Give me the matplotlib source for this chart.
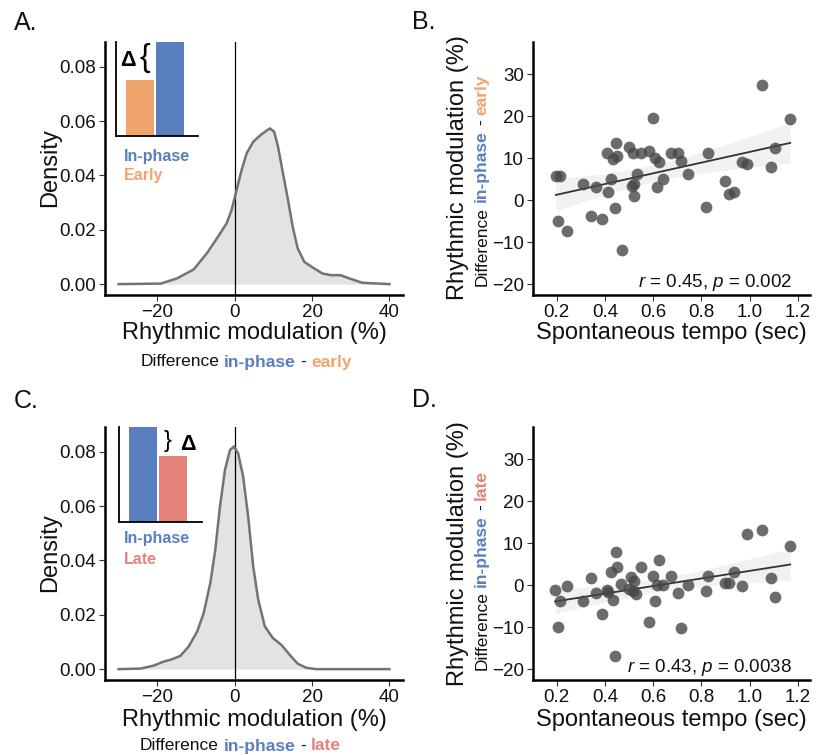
import numpy as np
import matplotlib
matplotlib.use("Agg")
import matplotlib.pyplot as plt
from matplotlib.transforms import IdentityTransform

plt.rcParams["font.family"] = ["Liberation Sans", "DejaVu Sans"]
plt.rcParams["mathtext.fontset"] = "custom"
plt.rcParams["mathtext.it"] = "Liberation Sans:italic"
plt.rcParams["mathtext.rm"] = "Liberation Sans"

W, H = 818, 755

# density curves
dens_x_early = [-30, -19.1, -14.9, -10.6, -7.2, -4.6, -2.1, -0.8, 0.5, 1.8, 3.1, 4.8, 6.9, 9.1,
                10.2, 11.2, 12.5, 13.8, 15.0, 16.3, 18.0, 20.2, 22.7, 24.9, 27.4, 29.6, 33.0, 40]
dens_y_early = [0, 0.0002, 0.0021, 0.0054, 0.0113, 0.0168, 0.0223, 0.0272, 0.0346, 0.0420,
                0.0481, 0.0524, 0.0551, 0.0573, 0.0561, 0.0506, 0.0407, 0.0309, 0.0211,
                0.0131, 0.0082, 0.0061, 0.0039, 0.0033, 0.0033, 0.0021, 0.0005, 0]

dens_x_late = [-30, -24.3, -20.9, -18.3, -16.2, -14.0, -11.9, -9.7, -8.0, -6.3, -5.0, -3.8,
               -2.5, -1.2, -0.2, 0.9, 2.2, 3.5, 4.8, 6.1, 7.8, 9.9, 12.1, 14.2, 16.3, 18.5, 21.0, 40]
dens_y_late = [0, 0.0002, 0.0013, 0.0028, 0.0036, 0.0049, 0.0083, 0.0138, 0.0206, 0.0316,
               0.0439, 0.0598, 0.0733, 0.0806, 0.0819, 0.0794, 0.0708, 0.0561, 0.0377,
               0.0255, 0.0157, 0.0114, 0.0089, 0.0053, 0.0020, 0.0005, 0, 0]

# scatter data
tempo_early = [0.196, 0.214, 0.204, 0.244, 0.308, 0.341, 0.363, 0.386, 0.410, 0.446, 0.434,
               0.451, 0.426, 0.412, 0.441, 0.469, 0.499, 0.517, 0.548, 0.531, 0.510, 0.520,
               0.521, 0.581, 0.600, 0.607, 0.625, 0.617, 0.639, 0.672, 0.702, 0.716, 0.746,
               0.818, 0.825, 0.898, 0.913, 0.935, 0.970, 0.989, 1.051, 1.090, 1.103, 1.168]
mod_early = [5.7, 5.7, -5.0, -7.3, 3.9, -3.8, 3.2, -4.4, 11.1, 13.5, 9.8,
             10.5, 5.0, 2.0, -2.0, -11.9, 12.7, 11.3, 11.1, 6.2, 3.4, 3.8,
             1.0, 11.7, 19.6, 9.9, 9.0, 3.2, 5.0, 11.3, 11.3, 9.3, 6.2,
             -1.7, 11.1, 4.5, 1.5, 2.0, 9.0, 8.6, 27.3, 7.8, 12.3, 19.2]

tempo_late = [0.193, 0.214, 0.204, 0.244, 0.308, 0.341, 0.363, 0.386, 0.410, 0.412, 0.426,
              0.446, 0.448, 0.434, 0.441, 0.468, 0.499, 0.508, 0.520, 0.517, 0.527, 0.548,
              0.581, 0.599, 0.606, 0.623, 0.614, 0.639, 0.672, 0.701, 0.716, 0.746, 0.818,
              0.825, 0.899, 0.913, 0.935, 0.970, 0.988, 1.051, 1.090, 1.103, 1.168]
mod_late = [-1.1, -3.7, -10.1, -0.3, -3.7, 1.8, -1.9, -6.9, -1.1, -1.7, 3.0,
            7.8, 4.3, -3.5, -17.0, 0.3, -1.0, 1.9, 0.9, -1.5, -2.1, 4.2,
            -8.7, 2.1, -3.7, 6.0, 0.1, 0.1, 2.2, -1.9, -10.2, 0.1, -1.3,
            2.2, 0.5, 0.5, 3.2, -0.3, 12.2, 13.2, 1.7, -2.9, 9.4]

stats_early = "$\\it{r}$ = 0.45, $\\it{p}$ = 0.002"
stats_late = "$\\it{r}$ = 0.43, $\\it{p}$ = 0.0038"

inset_early = [0.59, 1.1]   # early, in-phase
inset_late = [1.1, 0.69]    # in-phase, late

BLUE = "#5a7fbf"
ORANGE = "#efa46e"
SALMON = "#e5827a"
INK = "#111111"

fig = plt.figure(figsize=(W / 100, H / 100), dpi=100)


def box(left, top, right, bottom):
    return [left / W, 1 - bottom / H, (right - left) / W, (bottom - top) / H]


def ptext(x, y, s, **kw):
    # x, y in pixels from top-left
    return fig.text(x, H - y, s, transform=IdentityTransform(), **kw)


def colored(x, y, parts, size, rotation=0):
    r = fig.canvas.get_renderer()
    gap = 0.278 * size * 100 / 72
    texts = []
    for s, c, w in parts:
        t = ptext(0, 0, s, color=c, fontweight=w, fontsize=size, rotation=rotation,
                  ha="left" if rotation == 0 else "center",
                  va="center" if rotation == 0 else "bottom")
        texts.append(t)
    ext = [t.get_window_extent(r) for t in texts]
    lens = [e.width if rotation == 0 else e.height for e in ext]
    total = sum(lens) + gap * (len(lens) - 1)
    pos = -total / 2
    for t, L in zip(texts, lens):
        if rotation == 0:
            t.set_position((x + pos, H - y))
        else:
            t.set_position((x, H - y + pos))
        pos += L + gap


def style(ax):
    for s in ["top", "right"]:
        ax.spines[s].set_visible(False)
    for s in ["left", "bottom"]:
        ax.spines[s].set_linewidth(1.8)
        ax.spines[s].set_color("black")
    ax.tick_params(length=4.3, width=0.8, color="#333333", labelsize=13.5,
                   labelcolor=INK, pad=2)
    ax.set_facecolor("none")


def density_panel(ax, dx, dy):
    ax.fill_between(dx, 0, dy, color="#e3e3e3", lw=0, zorder=1)
    ax.axvline(0, color="black", lw=0.9, zorder=2)
    ax.plot(dx, dy, color="#737373", lw=1.8, zorder=3, solid_joinstyle="round")
    ax.set_xlim(-33.5, 43.5)
    ax.set_ylim(-0.004, 0.0892)
    ax.set_xticks([-20, 0, 20, 40])
    ax.set_yticks([0, 0.02, 0.04, 0.06, 0.08])
    ax.set_yticklabels(["0.00", "0.02", "0.04", "0.06", "0.08"])
    style(ax)


def scatter_panel(ax, x, y, label):
    x = np.asarray(x)
    y = np.asarray(y)
    n = len(x)
    b, a = np.polyfit(x, y, 1)
    xs = np.linspace(x.min(), x.max(), 80)
    resid = y - (a + b * x)
    s = np.sqrt((resid ** 2).sum() / (n - 2))
    se = s * np.sqrt(1 / n + (xs - x.mean()) ** 2 / ((x - x.mean()) ** 2).sum())
    fit = a + b * xs
    ax.fill_between(xs, fit - 2.018 * se, fit + 2.018 * se, color="#999999", alpha=0.13, lw=0, zorder=1)
    ax.plot(xs, fit, color="#333333", lw=1.3, zorder=2)
    ax.scatter(x, y, s=72, color="#474747", alpha=0.8, lw=0, zorder=3)
    ax.set_xlim(0.1, 1.25)
    ax.set_ylim(-22.6, 37.7)
    ax.set_xticks([0.2, 0.4, 0.6, 0.8, 1.0, 1.2])
    ax.set_xticklabels(["0.2", "0.4", "0.6", "0.8", "1.0", "1.2"])
    ax.set_yticks([-20, -10, 0, 10, 20, 30])
    ax.text(1.175, -19.6, label, ha="right", va="center", fontsize=13.5, color=INK)
    style(ax)


def inset(rect, vals, colors, xlim):
    ax = fig.add_axes(rect)
    ax.bar([0, 1], vals, width=0.92, color=colors, lw=0)
    ax.set_xlim(*xlim)
    ax.set_ylim(0, 1)
    for s in ["top", "right"]:
        ax.spines[s].set_visible(False)
    for s in ["left", "bottom"]:
        ax.spines[s].set_linewidth(1.3)
    ax.set_xticks([])
    ax.set_yticks([])
    ax.set_facecolor("none")
    return ax


# panel A
axA = fig.add_axes(box(105, 41.7, 403, 295))
density_panel(axA, dens_x_early, dens_y_early)
inset(box(115.7, 41.7, 198.3, 136), inset_early, [ORANGE, BLUE], (-0.81, 1.94))
ptext(128.3, 61, "Δ", fontsize=15.5, fontweight="bold", ha="center", va="center")
ptext(144.5, 58, "{", fontsize=23, ha="center", va="center")
ptext(124, 156.7, "In-phase", color=BLUE, fontsize=11.5, fontweight="bold", va="center")
ptext(124, 175.7, "Early", color=ORANGE, fontsize=11.5, fontweight="bold", va="center")
ptext(254, 333, "Rhythmic modulation (%)", fontsize=17, ha="center", va="center", color=INK)
colored(246, 362, [("Difference", INK, "normal"), ("in-phase", BLUE, "bold"),
                   ("-", INK, "normal"), ("early", ORANGE, "bold")], 12.5)
ptext(50, 168, "Density", fontsize=17, rotation=90, ha="center", va="center", color=INK)

# panel B
axB = fig.add_axes(box(532.7, 41.7, 810, 295))
scatter_panel(axB, tempo_early, mod_early, stats_early)
ptext(671, 333, "Spontaneous tempo (sec)", fontsize=17, ha="center", va="center", color=INK)
ptext(458.3, 167.5, "Rhythmic modulation (%)", fontsize=17, rotation=90, ha="center", va="center", color=INK)
colored(481.7, 180, [("Difference", INK, "normal"), ("in-phase", BLUE, "bold"),
                     ("-", INK, "normal"), ("early", ORANGE, "bold")], 12.5, rotation=90)

# panel C
axC = fig.add_axes(box(105, 426.7, 403, 680))
density_panel(axC, dens_x_late, dens_y_late)
inset(box(119.3, 426.7, 201.7, 521.7), inset_late, [BLUE, SALMON], (-0.78, 1.94))
ptext(168, 441, "}", fontsize=17, ha="center", va="center")
ptext(187.5, 444.5, "Δ", fontsize=15.5, fontweight="bold", ha="center", va="center")
ptext(124, 539, "In-phase", color=BLUE, fontsize=11.5, fontweight="bold", va="center")
ptext(124, 559, "Late", color=SALMON, fontsize=11.5, fontweight="bold", va="center")
ptext(254, 720, "Rhythmic modulation (%)", fontsize=17, ha="center", va="center", color=INK)
colored(240.5, 746, [("Difference", INK, "normal"), ("in-phase", BLUE, "bold"),
                     ("-", INK, "normal"), ("late", SALMON, "bold")], 12.5)
ptext(50, 553, "Density", fontsize=17, rotation=90, ha="center", va="center", color=INK)

# panel D
axD = fig.add_axes(box(532.7, 426.7, 810, 680))
scatter_panel(axD, tempo_late, mod_late, stats_late)
ptext(671, 720, "Spontaneous tempo (sec)", fontsize=17, ha="center", va="center", color=INK)
ptext(458.3, 553.5, "Rhythmic modulation (%)", fontsize=17, rotation=90, ha="center", va="center", color=INK)
colored(481.7, 570, [("Difference", INK, "normal"), ("in-phase", BLUE, "bold"),
                     ("-", INK, "normal"), ("late", SALMON, "bold")], 12.5, rotation=90)

# panel letters
for lx, ly, letter in [(14, 30, "A."), (412, 29, "B."), (14, 408, "C."), (412, 407, "D.")]:
    ptext(lx, ly, letter, fontsize=18, va="baseline", color=INK)

fig.savefig("out.png", dpi=100)
